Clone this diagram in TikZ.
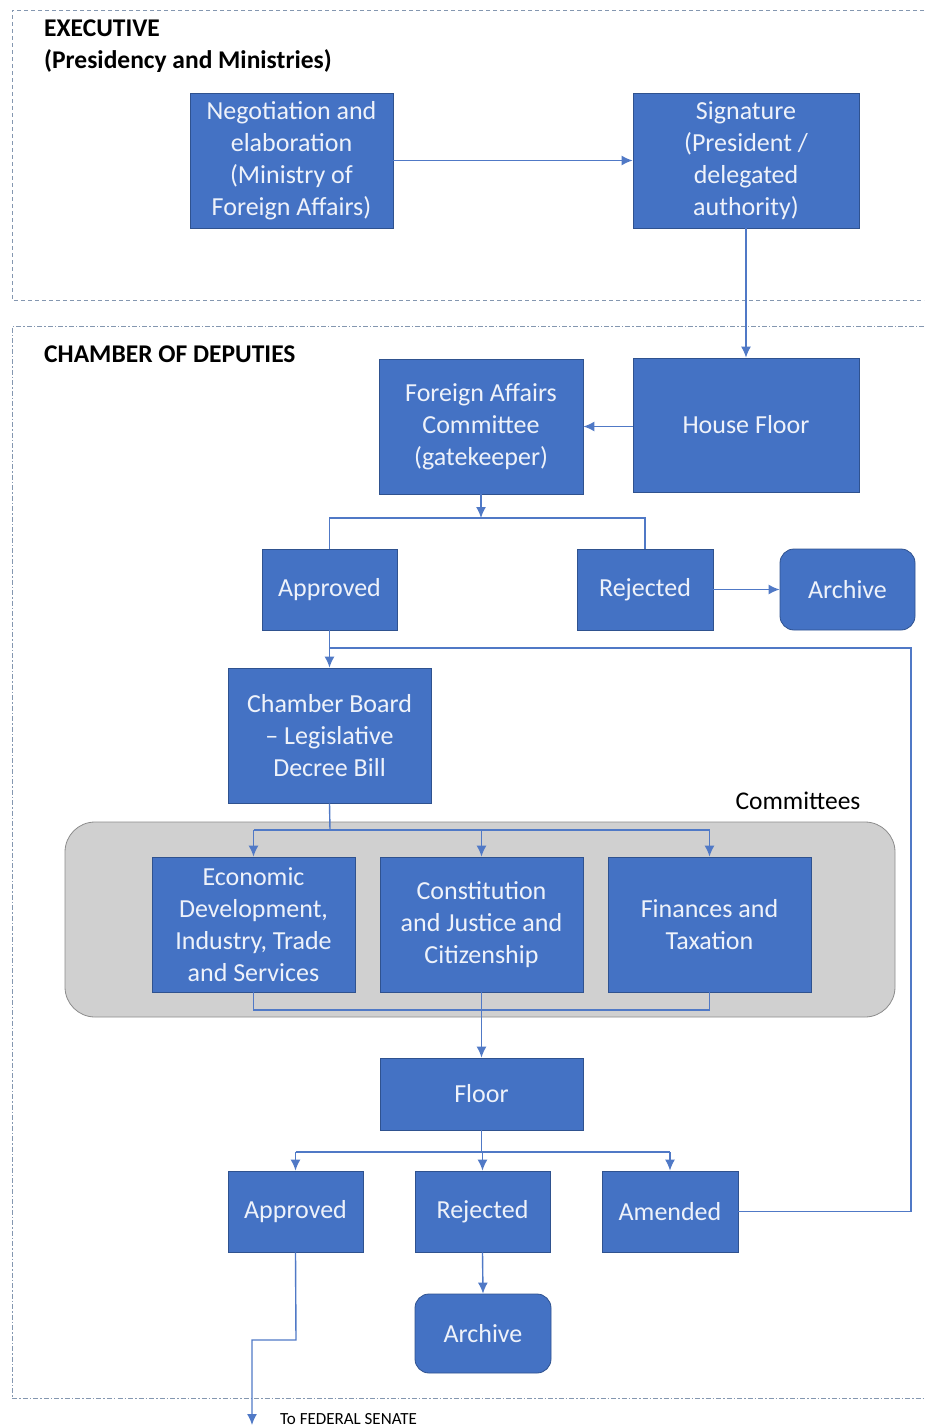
\documentclass[tikz,border=0pt]{standalone}
\usepackage{fontspec}
\setmainfont{Carlito}
\usetikzlibrary{arrows.meta}
\definecolor{boxblue}{HTML}{4472C4}
\definecolor{boxedge}{HTML}{2F528F}
\definecolor{linecol}{HTML}{5079C6}
\definecolor{dashcol}{HTML}{8497B0}
\definecolor{greyfill}{HTML}{D0D0D0}
\definecolor{greyedge}{HTML}{8C8C8C}
\definecolor{boxtext}{HTML}{EEF2FA}
\begin{document}
\begin{tikzpicture}[x=1pt,y=-1pt,
  box/.style={draw=boxedge, fill=boxblue, text=boxtext, font=\fontsize{26}{32}\selectfont, align=center, inner sep=0pt, line width=0.8pt},
  rbox/.style={box, rounded corners=14pt},
  conn/.style={draw=linecol, line width=1.4pt},
  arr/.style={conn, -{Latex[length=11pt,width=10pt]}},
  region/.style={draw=dashcol, line width=1pt},
  heading/.style={anchor=base west, font=\fontsize{25.5}{32}\selectfont\bfseries, align=left, inner sep=0pt}
]
\useasboundingbox (0,0) rectangle (924,1427);

% regions
\draw[region, dash pattern=on 4pt off 3pt] (924,10) -- (12,10) -- (12,300) -- (924,300);
\draw[region, dash pattern=on 5pt off 2pt on 1.5pt off 2pt] (924,326) -- (12,326) -- (12,1398) -- (924,1398);
\node[heading] (exec) at (44,36) {EXECUTIVE};
\node[heading] (pres) at (44,68) {(Presidency and Ministries)};
\node[heading] (chamb) at (44,362) {CHAMBER OF DEPUTIES};

% committees container
\draw[fill=greyfill, draw=greyedge, line width=0.8pt, rounded corners=30pt] (65,822) rectangle (895,1017);
\node[font=\fontsize{25.5}{30}\selectfont, text=black, inner sep=0pt] (comlab) at (798,801) {Committees};

% executive boxes
\node[box, minimum width=203pt, minimum height=135pt] (neg) at (291.5,160.5) {Negotiation and\\elaboration\\(Ministry of\\Foreign Affairs)};
\node[box, minimum width=226pt, minimum height=135pt] (sig) at (746,160.5) {Signature\\(President /\\delegated\\authority)};

% chamber boxes
\node[box, minimum width=204pt, minimum height=135pt] (fac) at (481,426.5) {Foreign Affairs\\Committee\\(gatekeeper)};
\node[box, minimum width=226pt, minimum height=134pt] (hf) at (746,425) {House Floor};
\node[box, minimum width=135pt, minimum height=81pt] (a1) at (329.5,589.5) {Approved};
\node[box, minimum width=136pt, minimum height=81pt] (r1) at (645,589.5) {Rejected};
\node[rbox, minimum width=135pt, minimum height=81pt] (ar1) at (847.5,589.5) {Archive};
\node[box, minimum width=203pt, minimum height=135pt] (cb) at (329.5,735.5) {Chamber Board\\– Legislative\\Decree Bill};
\node[box, minimum width=203pt, minimum height=135pt] (eco) at (253.5,924.5) {Economic\\Development,\\Industry, Trade\\and Services};
\node[box, minimum width=203pt, minimum height=135pt] (con) at (481.5,924.5) {Constitution\\and Justice and\\Citizenship};
\node[box, minimum width=203pt, minimum height=135pt] (fin) at (709.5,924.5) {Finances and\\Taxation};
\node[box, minimum width=203pt, minimum height=72pt] (fl) at (481.5,1094) {Floor};
\node[box, minimum width=135pt, minimum height=81pt] (a2) at (295.5,1211.5) {Approved};
\node[box, minimum width=135pt, minimum height=81pt] (r2) at (482.5,1211.5) {Rejected};
\node[box, minimum width=136pt, minimum height=81pt] (am) at (670,1211.5) {Amended};
\node[rbox, minimum width=136pt, minimum height=79pt] (ar2) at (483,1333.5) {Archive};
\node[anchor=west, font=\fontsize{17}{18}\selectfont, inner sep=0pt] (sen) at (280,1419) {To FEDERAL SENATE};

% coordinates
\coordinate (j1) at (481,518);
\coordinate (loopR) at (911,648);
\coordinate (j2) at (330,830);
\coordinate (j3) at (481.5,1010);
\coordinate (j4) at (481.5,1152);
\coordinate (bend) at (296,1340);
\coordinate (bend2) at (252,1340);
\coordinate (senate) at (252,1425);

% connectors
\draw[arr] (neg.east |- sig) -- (sig.west);
\draw[arr] (sig.south) -- (hf.north);
\draw[arr] (hf.west |- fac) -- (fac.east);
\draw[arr] (fac.south) -- (j1);
\draw[conn] (a1.north) -- (a1.north |- j1) -- (r1.north |- j1) -- (r1.north);
\draw[arr] (r1.east) -- (ar1.west);
\draw[arr] (a1.south) -- (cb.north);
\draw[conn] (am.east) -- (am.east -| loopR) -- (loopR) -- (a1.south |- loopR);
\draw[conn] (cb.south) -- (j2);
\draw[conn] (eco.north |- j2) -- (fin.north |- j2);
\draw[arr] (eco.north |- j2) -- (eco.north);
\draw[arr] (con.north |- j2) -- (con.north);
\draw[arr] (fin.north |- j2) -- (fin.north);
\draw[conn] (eco.south) -- (eco.south |- j3) -- (fin.south |- j3) -- (fin.south);
\draw[arr] (con.south) -- (fl.north);
\draw[conn] (fl.south) -- (j4);
\draw[conn] (a2.north |- j4) -- (am.north |- j4);
\draw[arr] (a2.north |- j4) -- (a2.north);
\draw[arr] (r2.north |- j4) -- (r2.north);
\draw[arr] (am.north |- j4) -- (am.north);
\draw[arr] (r2.south) -- (ar2.north);
\draw[arr] (a2.south) -- (bend) -- (bend2) -- (senate);
\end{tikzpicture}
\end{document}
